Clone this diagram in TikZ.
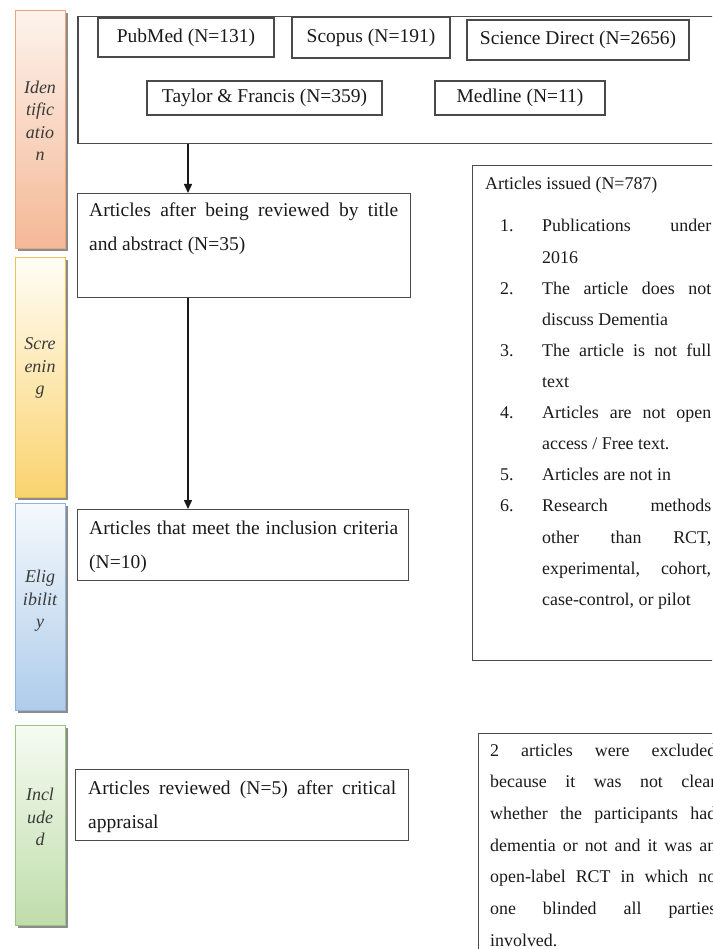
\documentclass[tikz,border=0pt]{standalone}
\usepackage{fontspec}
\setmainfont{Liberation Serif}
\usetikzlibrary{arrows.meta,shadows}
\definecolor{boxgray}{HTML}{4A4A4A}
\definecolor{textblack}{HTML}{1A1A1A}
\definecolor{labgray}{HTML}{3A3A3A}
\definecolor{idtop}{HTML}{FDF3EC}
\definecolor{idbot}{HTML}{F4B896}
\definecolor{idline}{HTML}{E9A47C}
\definecolor{sctop}{HTML}{FFFDF6}
\definecolor{scbot}{HTML}{FAD36E}
\definecolor{scline}{HTML}{E6C258}
\definecolor{eltop}{HTML}{F5F9FD}
\definecolor{elbot}{HTML}{AECCEA}
\definecolor{elline}{HTML}{93B4D8}
\definecolor{intop}{HTML}{F6FBF2}
\definecolor{inbot}{HTML}{BFDDAA}
\definecolor{inline}{HTML}{9BC285}
\newcommand{\bigtxt}{\fontsize{19.5}{34}\selectfont}
\newcommand{\smalltxt}{\fontsize{17.9}{31.1}\selectfont}
\newcommand{\itm}[1]{\par\noindent\llap{\makebox[42pt][l]{#1}}\ignorespaces}
\begin{document}
\begin{tikzpicture}[x=1pt,y=-1pt,
  box/.style={draw=boxgray, line width=1.1pt, inner sep=0pt, rectangle},
  srcbox/.style={box, font=\bigtxt, text=textblack},
  bar/.style={rectangle, line width=0.9pt, minimum width=50pt, inner sep=0pt,
    drop shadow={shadow xshift=3pt, shadow yshift=-3pt, fill=black!45, opacity=1}},
  barlabel/.style={align=center, font=\fontsize{18}{22.5}\selectfont\itshape, text=labgray},
  para/.style={inner sep=0pt, anchor=base west, text=textblack},
  arr/.style={line width=1.5pt, draw=textblack, -{Triangle[width=8pt,length=9pt]}}]
\clip (0,0) rectangle (712,949);
\fill[white] (0,0) rectangle (712,949);

% phase bars
\node[bar, top color=idtop, bottom color=idbot, draw=idline, minimum height=238pt, anchor=north west] (idbar) at (15,10) {};
\node[bar, top color=sctop, bottom color=scbot, draw=scline, minimum height=240pt, anchor=north west] (scbar) at (15,257) {};
\node[bar, top color=eltop, bottom color=elbot, draw=elline, minimum height=207pt, anchor=north west] (elbar) at (15,503) {};
\node[bar, top color=intop, bottom color=inbot, draw=inline, minimum height=200pt, anchor=north west] (inbar) at (15,725) {};
\node[barlabel] (idlab) at (40,121) {Iden\\tific\\atio\\n};
\node[barlabel] (sclab) at (40,368) {Scre\\enin\\g};
\node[barlabel] (ellab) at (40,601) {Elig\\ibilit\\y};
\node[barlabel] (inlab) at (40,817) {Incl\\ude\\d};

% sources
\node[box, line width=1.5pt, minimum width=660pt, minimum height=127pt, anchor=north west] (src) at (77,16) {};
\node[srcbox, minimum width=176pt, minimum height=39pt] (pubmed) at (186,37.5) {PubMed (N=131)};
\node[srcbox, minimum width=158pt, minimum height=41pt] (scopus) at (371,37.5) {Scopus (N=191)};
\node[srcbox, minimum width=222pt, minimum height=40pt] (sd) at (578,40) {Science Direct (N=2656)};
\node[srcbox, minimum width=235pt, minimum height=34pt] (tf) at (264.5,98) {Taylor \& Francis (N=359)};
\node[srcbox, minimum width=170pt, minimum height=34pt] (med) at (520,98) {Medline (N=11)};

% left flow boxes
\node[box, minimum width=333pt, minimum height=104pt, anchor=north west] (b2) at (77,193) {};
\node[para] (b2t) at (89,217) {\parbox[t]{309pt}{\bigtxt Articles after being reviewed by title\linebreak and abstract (N=35)}};
\node[box, minimum width=331pt, minimum height=71pt, anchor=north west] (b3) at (77,509) {};
\node[para] (b3t) at (89,534) {\parbox[t]{309pt}{\bigtxt Articles that meet the inclusion criteria\linebreak (N=10)}};
\node[box, minimum width=333pt, minimum height=71pt, anchor=north west] (b4) at (75,769) {};
\node[para] (b4t) at (88,794) {\parbox[t]{308pt}{\bigtxt Articles reviewed (N=5) after critical\linebreak appraisal}};

% exclusion boxes
\node[box, minimum width=260pt, minimum height=495pt, anchor=north west] (excl) at (472,165) {};
\node[para] (exh) at (485,190) {\smalltxt Articles issued (N=787)};
\node[para] (exl) at (485,232) {\parbox[t]{226pt}{\smalltxt\leftskip=57pt
\itm{1.}Publications under\linebreak 2016
\itm{2.}The article does not\linebreak discuss Dementia
\itm{3.}The article is not full\linebreak text
\itm{4.}Articles are not open\linebreak access / Free text.
\itm{5.}Articles are not in
\itm{6.}Research methods\linebreak other than RCT,\linebreak experimental, cohort,\linebreak case-control, or pilot}};

\node[box, minimum width=260pt, minimum height=240pt, anchor=north west] (excl2) at (478,733) {};
\node[para] (ex2t) at (490,756) {\parbox[t]{226pt}{\fontsize{17.9}{31.7}\selectfont 2 articles were excluded\linebreak because it was not clear\linebreak whether the participants had\linebreak dementia or not and it was an\linebreak open-label RCT in which no\linebreak one blinded all parties\linebreak involved.}};

% arrows
\coordinate (ax) at (188,0);
\draw[arr] (src.south -| ax) -- (b2.north -| ax);
\draw[arr] (b2.south -| ax) -- (b3.north -| ax);
\end{tikzpicture}
\end{document}
